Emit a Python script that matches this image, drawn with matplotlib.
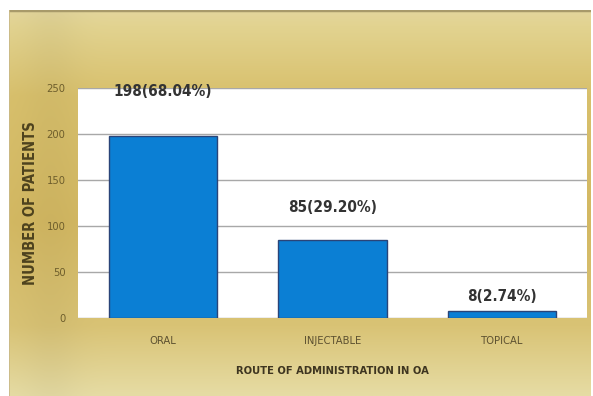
import numpy as np
import matplotlib
matplotlib.use("Agg")
import matplotlib.pyplot as plt
from matplotlib.colors import to_rgb

# Data
categories = ["ORAL", "INJECTABLE", "TOPICAL"]
patients = [198, 85, 8]
percent_labels = ["198(68.04%)", "85(29.20%)", "8(2.74%)"]
y_ticks = [0, 50, 100, 150, 200, 250]

FONT = ["DejaVu Sans"]
STRETCH = "condensed"

W, H = 593, 396
fig = plt.figure(figsize=(W / 100, H / 100), dpi=100)
fig.patch.set_facecolor("white")

# Gold gradient panel behind the chart
px0, px1, py0, py1 = 9, 591, 10, 396
bg = fig.add_axes([px0 / W, 0, (px1 - px0) / W, (py1 - py0) / H], zorder=-5)
nh, nw = 200, 300
stops_y = [0.0, 0.04, 0.22, 0.55, 0.82, 1.0]
stops_c = ["#e4d69c", "#e2d390", "#d8c06c", "#d3b862", "#d9c375", "#e6dca4"]
rgb = np.array([to_rgb(c) for c in stops_c])
t = np.linspace(0, 1, nh)
col = np.stack([np.interp(t, stops_y, rgb[:, k]) for k in range(3)], axis=1)
img = np.repeat(col[:, None, :], nw, axis=1)
# slightly darker band along the left edge
xs = np.linspace(0, 1, nw)
shade = 1 - 0.03 * np.exp(-((xs - 0.07) / 0.05) ** 2)
img = img * shade[None, :, None]
bg.imshow(img, aspect="auto", extent=[0, 1, 0, 1], origin="upper")
bg.set_xlim(0, 1)
bg.set_ylim(0, 1)
bg.axis("off")
bg.axhline(1.0, color="#a89a6a", lw=2.5)
bg.axvline(0.0, color="#c8b888", lw=1.2)

# Main plot area
ax = fig.add_axes([78 / W, 78 / H, 509 / W, 230 / H])
ax.set_facecolor("white")
x = np.arange(len(categories))
ax.bar(x, patients, width=0.64, color="#0b7fd4", edgecolor="#2a4478",
       linewidth=1.0, zorder=3)
ax.set_xlim(-0.5, len(categories) - 0.5)
ax.set_ylim(0, 250)
ax.set_yticks(y_ticks)
ax.set_yticklabels([str(v) for v in y_ticks], fontsize=8, family=FONT,
                   stretch=STRETCH, color="#6e5e2c")
ax.set_xticks(x)
ax.set_xticklabels(categories, fontsize=8, family=FONT, stretch=STRETCH,
                   color="#5c5030")
ax.tick_params(axis="y", length=0, pad=9)
ax.tick_params(axis="x", length=0, pad=13)
ax.grid(axis="y", color="#a8a8a8", linewidth=1, zorder=1)
for s in ax.spines.values():
    s.set_visible(False)

ax.set_ylabel("NUMBER OF PATIENTS", fontsize=10.5, fontweight="bold",
              family=FONT, stretch=STRETCH, color="#4d421e", labelpad=6)
ax.set_xlabel("ROUTE OF ADMINISTRATION IN OA", fontsize=8,
              fontweight="bold", family=FONT, stretch=STRETCH,
              color="#3e3520", labelpad=14)

# Value labels above bars
offsets = [32, 23, 10]
for xi, v, lab, off in zip(x, patients, percent_labels, offsets):
    ax.annotate(lab, (xi, v), xytext=(0, off), textcoords="offset points",
                ha="center", va="center", fontsize=11, fontweight="bold",
                family=FONT, stretch=STRETCH, color="#333333", zorder=5,
                annotation_clip=False)

fig.savefig("out.png", dpi=100)
